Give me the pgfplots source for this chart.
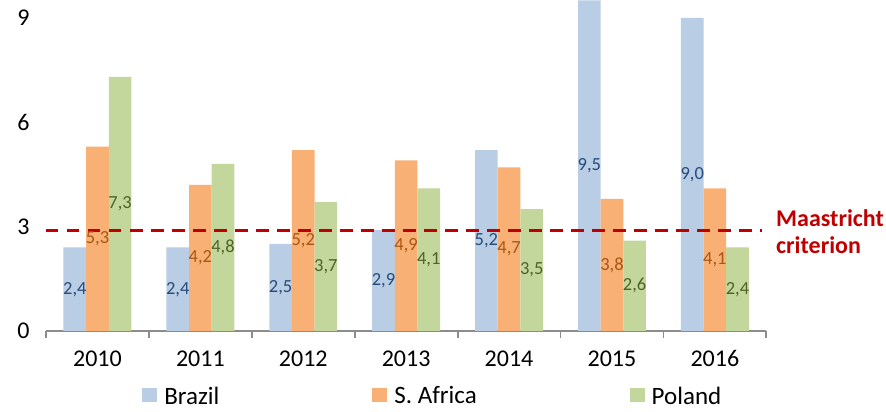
\documentclass[border=0pt]{standalone}
\usepackage{fontspec}
\setmainfont{Carlito}
\usepackage{pgfplots}
\pgfplotsset{compat=1.18}
\usepackage{pgfplotstable}

\definecolor{cbrazil}{HTML}{B9CDE5}
\definecolor{cafrica}{HTML}{F9B074}
\definecolor{cpoland}{HTML}{C3D69B}
\definecolor{tbrazil}{HTML}{264B7C}
\definecolor{tafrica}{HTML}{A85716}
\definecolor{tpoland}{HTML}{4F6228}
\definecolor{mred}{HTML}{C00000}
\definecolor{axisgrey}{HTML}{8C8C8C}

% x = year index (2010 = 0), v = value
\pgfplotstableread{
x v
0 2.4
1 2.4
2 2.5
3 2.9
4 5.2
5 9.5
6 9.0
}\brazil
\pgfplotstableread{
x v
0 5.3
1 4.2
2 5.2
3 4.9
4 4.7
5 3.8
6 4.1
}\safrica
\pgfplotstableread{
x v
0 7.3
1 4.8
2 3.7
3 4.1
4 3.5
5 2.6
6 2.4
}\poland

\pgfplotsset{
  vlabel/.style={draw=none, forget plot, nodes near coords,
    point meta=explicit,
    nodes near coords={\pgfmathprintnumber[fixed,fixed zerofill,precision=1,use comma]{\pgfplotspointmeta}},
    nodes near coords style={anchor=center, inner sep=0pt, font=\fontsize{18.5}{22}\selectfont, text=#1}},
}

\begin{document}
\begin{tikzpicture}
\useasboundingbox (-46pt,-81pt) rectangle (840pt,331pt);
\begin{axis}[
  at={(0,0)}, anchor=south west,
  x=102.9pt, y=34.8pt,
  xmin=-0.5, xmax=6.5, ymin=0, ymax=9.5,
  axis x line*=bottom, axis y line*=left,
  y axis line style={draw=none},
  x axis line style={draw=axisgrey, line width=1.8pt},
  xtick={0,1,2,3,4,5,6},
  xticklabels={2010,2011,2012,2013,2014,2015,2016},
  minor xtick={-0.5,0.5,1.5,2.5,3.5,4.5,5.5,6.5},
  ytick={0,3,6,9},
  major tick length=0pt, minor tick length=7pt, tick align=outside,
  minor tick style={draw=axisgrey, line width=1.8pt},
  tick label style={font=\fontsize{24}{28}\selectfont},
  /pgf/number format/assume math mode=true,
  xticklabel style={yshift=-16pt},
  yticklabel style={xshift=-13pt},
  clip=false,
  legend columns=3,
  legend style={at={(0.537,-0.197)}, anchor=center, draw=none, fill=none,
    font=\fontsize{25}{30}\selectfont,
    /tikz/every even column/.append style={column sep=151pt}},
]
\addplot[ybar, bar width=0.22, fill=cbrazil, draw=none,
  legend image code/.code={\fill[cbrazil] (0pt,-6pt) rectangle (15pt,8pt); \path (20pt,0pt);}]
  table[x expr=\thisrow{x}-0.22, y=v]{\brazil};
\addlegendentry{Brazil}
\addplot[ybar, bar width=0.22, fill=cafrica, draw=none,
  legend image code/.code={\fill[cafrica] (0pt,-6pt) rectangle (15pt,8pt); \path (20pt,0pt);}]
  table[x=x, y=v]{\safrica};
\addlegendentry{S. Africa}
\addplot[ybar, bar width=0.22, fill=cpoland, draw=none,
  legend image code/.code={\fill[cpoland] (0pt,-6pt) rectangle (15pt,8pt); \path (20pt,0pt);}]
  table[x expr=\thisrow{x}+0.22, y=v]{\poland};
\addlegendentry{Poland}

% Maastricht criterion
\addplot[mred, line width=3pt, dash pattern=on 12.5pt off 8.5pt, forget plot]
  coordinates {(-0.5,2.9) (6.46,2.9)};

% value labels at half bar height
\addplot[vlabel=tbrazil] table[x expr=\thisrow{x}-0.22, y expr=\thisrow{v}/2, meta=v]{\brazil};
\addplot[vlabel=tafrica] table[x=x, y expr=\thisrow{v}/2, meta=v]{\safrica};
\addplot[vlabel=tpoland] table[x expr=\thisrow{x}+0.22, y expr=\thisrow{v}/2, meta=v]{\poland};

\node[anchor=west, align=left, inner sep=0pt, text=mred,
  font=\bfseries\fontsize{24}{27}\selectfont] at (axis cs:6.594,2.84) {Maastricht\\criterion};
\end{axis}
\end{tikzpicture}
\end{document}
